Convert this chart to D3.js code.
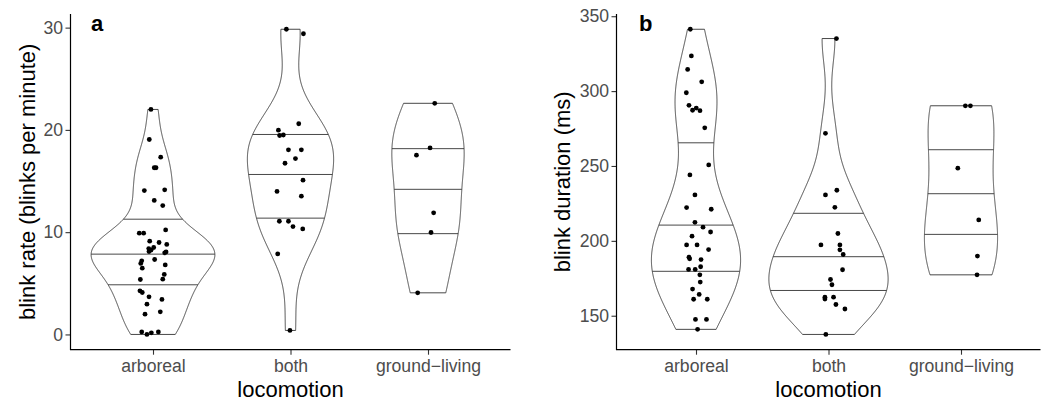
<!DOCTYPE html>
<html>
<head>
<meta charset="utf-8">
<script src="https://cdn.jsdelivr.net/npm/d3@7/dist/d3.min.js"></script>
<style>
  html, body { margin: 0; padding: 0; background: #fff; }
  svg { display: block; font-family: "Liberation Sans", Arial, Helvetica, sans-serif; }
</style>
</head>
<body>
<svg id="chart" width="1050" height="402"></svg>
<script>
// ---------- data ----------
const categories = ["arboreal", "both", "ground\u2212living"];

const rateArboreal = [22.0, 19.06, 17.33, 16.3, 16.3, 14.07, 14.14, 13.1, 12.6, 10.22, 9.9, 9.9, 9.12, 8.99, 8.8, 8.4, 8.24, 8.5, 8.1, 8.07, 7.98, 7.33, 7.2, 6.94, 6.48, 6.8, 5.37, 5.87, 5.4, 4.26, 4.1, 3.68, 3.42, 2.96, 1.98, 2.21, 0.25, 0.0, 0.16, 0.25];
const rateArborealJitter = [-0.015, -0.027, 0.056, 0.009, 0.022, -0.063, 0.085, 0.009, 0.071, 0.092, -0.1, -0.068, -0.024, 0.044, 0.1, -0.031, -0.015, 0.005, -0.029, 0.095, 0.085, 0.012, -0.082, -0.089, -0.078, 0.089, -0.092, 0.082, 0.071, -0.095, -0.078, -0.029, 0.065, -0.044, -0.058, 0.053, -0.082, -0.044, -0.012, 0.039];
const rateBoth = [29.84, 29.4, 20.6, 19.97, 19.45, 19.5, 18.05, 18.05, 17.2, 16.74, 15.08, 13.98, 13.52, 11.07, 11.07, 10.55, 10.32, 7.88, 0.39];
const rateBothJitter = [-0.03, 0.094, 0.06, -0.088, -0.079, -0.052, -0.015, 0.079, 0.036, -0.04, 0.091, -0.098, 0.079, -0.081, -0.015, 0.018, 0.089, -0.093, -0.004];
const rateGround = [22.6, 18.24, 17.53, 11.89, 9.97, 4.07];
const rateGroundJitter = [0.049, 0.015, -0.084, 0.041, 0.022, -0.075];

const durArboreal = [341.3, 323.5, 314.5, 306.2, 298.9, 290.5, 287.2, 288.7, 286.9, 275.5, 250.7, 244, 230.7, 222.2, 221.1, 212.4, 209.1, 205.9, 203.1, 197.3, 197.3, 194.2, 189.1, 188, 187.5, 182.7, 180.9, 180.9, 177.3, 172.5, 167.8, 164.2, 161, 161, 147.5, 147.5, 140.9];
const durArborealJitter = [-0.043, -0.035, -0.063, 0.043, -0.073, -0.053, -0.026, 0.002, 0.03, 0.066, 0.096, -0.046, -0.008, -0.071, 0.115, -0.008, 0.053, 0.11, -0.03, -0.071, 0.008, 0.095, -0.053, -0.048, 0.038, 0.035, -0.056, -0.006, 0.029, 0.032, -0.026, 0.024, -0.018, 0.085, -0.004, 0.079, 0.012];
const durBoth = [335.1, 271.8, 233.8, 230.7, 222.4, 204.9, 197.3, 197.3, 194, 190.9, 180.7, 174.2, 170.7, 162.4, 161.1, 162.4, 157.5, 154.5, 137.5];
const durBothJitter = [0.06, -0.023, 0.063, -0.023, 0.048, 0.071, -0.057, 0.086, 0.086, 0.111, 0.106, 0.015, 0.026, -0.027, -0.027, 0.038, 0.056, 0.124, -0.02];
const durGround = [290.2, 290.2, 248.5, 214, 189.8, 177.3];
const durGroundJitter = [0.033, 0.071, -0.024, 0.134, 0.124, 0.121];

const rateTicks = [0, 10, 20, 30];
const durTicks = [150, 200, 250, 300, 350];
const quantileLevels = [0.25, 0.5, 0.75];

// ---------- helpers ----------
function bwNrd0(x) {
  const n = x.length;
  const s = d3.deviation(x);
  const sorted = x.slice().sort(d3.ascending);
  const iqr = d3.quantileSorted(sorted, 0.75) - d3.quantileSorted(sorted, 0.25);
  let lo = Math.min(s, iqr / 1.34);
  if (!(lo > 0)) lo = s || Math.abs(sorted[0]) || 1;
  return 0.9 * lo * Math.pow(n, -0.2);
}
function densityTrimmed(x, nPts) {
  const bw = bwNrd0(x);
  const [mn, mx] = d3.extent(x);
  const out = [];
  for (let i = 0; i < nPts; i++) {
    const y = mn + (mx - mn) * i / (nPts - 1);
    let s = 0;
    for (const v of x) { const z = (y - v) / bw; s += Math.exp(-0.5 * z * z); }
    out.push({ y, d: s / (x.length * bw * Math.sqrt(2 * Math.PI)) });
  }
  return out;
}
function interp(xs, ys, v) {
  if (v <= xs[0]) return ys[0];
  for (let i = 1; i < xs.length; i++) {
    if (v <= xs[i]) {
      const t = (v - xs[i - 1]) / ((xs[i] - xs[i - 1]) || 1);
      return ys[i - 1] + t * (ys[i] - ys[i - 1]);
    }
  }
  return ys[ys.length - 1];
}

const svg = d3.select("#chart");
const plotTop = 14, plotBottom = 349.7;
const tickColor = "#4D4D4D";

function drawPanel(cfg) {
  const g = svg.append("g");
  const x = d3.scalePoint().domain(categories).range([cfg.x0, cfg.x1]).padding(0.6);
  const all = cfg.groups.flatMap(gr => gr.values);
  const [mn, mx] = d3.extent(all);
  const pad = (mx - mn) * 0.05;
  const y = d3.scaleLinear().domain([mn - pad, mx + pad]).range([plotBottom, plotTop]);
  const step = x.step();
  const halfMax = 0.45 * step;

  const dens = cfg.groups.map(gr => densityTrimmed(gr.values, 512));
  const maxD = d3.max(dens, ds => d3.max(ds, p => p.d));

  cfg.groups.forEach((gr, gi) => {
    const cx = x(categories[gi]);
    const ds = dens[gi];
    const pts = [];
    ds.forEach(p => pts.push([cx + halfMax * p.d / maxD, y(p.y)]));
    for (let i = ds.length - 1; i >= 0; i--) pts.push([cx - halfMax * ds[i].d / maxD, y(ds[i].y)]);
    g.append("path")
      .attr("d", d3.line()(pts) + "Z")
      .attr("fill", "none").attr("stroke", "#333333").attr("stroke-width", 0.9);

    // quantile lines from density
    const total = d3.sum(ds, p => p.d);
    let c = 0;
    const cdf = ds.map(p => (c += p.d) / total);
    const yv = ds.map(p => p.y);
    const dv = ds.map(p => p.d);
    quantileLevels.forEach(q => {
      const qy = interp(cdf, yv, q);
      const w = halfMax * interp(yv, dv, qy) / maxD;
      g.append("line")
        .attr("x1", cx - w).attr("x2", cx + w)
        .attr("y1", y(qy)).attr("y2", y(qy))
        .attr("stroke", "#333333").attr("stroke-width", 0.9);
    });

    // jittered points
    g.selectAll(null).data(gr.values.map((v, i) => ({ v, j: gr.jitter[i] })))
      .enter().append("circle")
      .attr("cx", d => cx + d.j * step)
      .attr("cy", d => y(d.v))
      .attr("r", 2.4)
      .attr("fill", "#000");
  });

  // axes
  const yAxis = g.append("g").attr("transform", `translate(${cfg.x0},0)`)
    .call(d3.axisLeft(y).tickValues(cfg.ticks).tickSize(5).tickPadding(2.5));
  const xAxis = g.append("g").attr("transform", `translate(0,${plotBottom})`)
    .call(d3.axisBottom(x).tickSize(5).tickPadding(5));
  [yAxis, xAxis].forEach(a => {
    a.select(".domain").remove();
    a.selectAll(".tick line").attr("stroke", "#333333").attr("stroke-width", 1.1);
    a.selectAll(".tick text").attr("fill", tickColor)
      .style("font-size", "17.6px").style("font-family", "'Liberation Sans', Arial, sans-serif");
  });
  // axis lines (L shape)
  g.append("path")
    .attr("d", `M${cfg.x0},${plotTop}V${plotBottom}H${cfg.x1}`)
    .attr("fill", "none").attr("stroke", "#000").attr("stroke-width", 1.2);

  // titles
  g.append("text")
    .attr("x", (cfg.x0 + cfg.x1) / 2).attr("y", 397)
    .attr("text-anchor", "middle").style("font-size", "22px").attr("fill", "#000")
    .text("locomotion");
  g.append("text")
    .attr("transform", `translate(${cfg.yTitleX},${(plotTop + plotBottom) / 2}) rotate(-90)`)
    .attr("text-anchor", "middle").style("font-size", "22px").attr("fill", "#000")
    .text(cfg.yTitle);
  g.append("text")
    .attr("x", cfg.tagX).attr("y", 31)
    .style("font-size", "22px").style("font-weight", "bold").attr("fill", "#000")
    .text(cfg.tag);
}

drawPanel({
  x0: 70.5, x1: 510.5, ticks: rateTicks,
  yTitle: "blink rate (blinks per minute)", yTitleX: 35, tag: "a", tagX: 91,
  groups: [
    { values: rateArboreal, jitter: rateArborealJitter },
    { values: rateBoth, jitter: rateBothJitter },
    { values: rateGround, jitter: rateGroundJitter }
  ]
});
drawPanel({
  x0: 616.5, x1: 1040.5, ticks: durTicks,
  yTitle: "blink duration (ms)", yTitleX: 570, tag: "b", tagX: 639,
  groups: [
    { values: durArboreal, jitter: durArborealJitter },
    { values: durBoth, jitter: durBothJitter },
    { values: durGround, jitter: durGroundJitter }
  ]
});
</script>
</body>
</html>
